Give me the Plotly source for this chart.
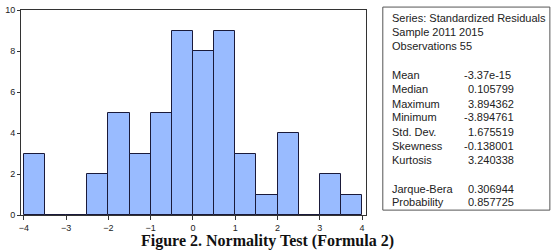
import plotly.graph_objects as go

bin_left = [-4.0, -3.5, -3.0, -2.5, -2.0, -1.5, -1.0, -0.5, 0.0, 0.5, 1.0, 1.5, 2.0, 2.5, 3.0, 3.5]
counts = [3, 0, 0, 2, 5, 3, 5, 9, 8, 9, 3, 1, 4, 0, 2, 1]
bin_width = 0.5

stat_header = ["Series: Standardized Residuals", "Sample 2011 2015", "Observations 55"]
stat_labels = ["Mean", "Median", "Maximum", "Minimum", "Std. Dev.", "Skewness", "Kurtosis", "Jarque-Bera", "Probability"]
stat_values = ["-3.37e-15", "0.105799", "3.894362", "-3.894761", "1.675519", "-0.138001", "3.240338", "0.306944", "0.857725"]

W, H = 554, 252
L, R, T, B = 17, 366, 5, 215

def px(x):
    return (x - L) / (R - L)

def py(y):
    return (B - y) / (B - T)

fig = go.Figure()
fig.add_trace(go.Bar(
    x=[b + bin_width / 2 for b in bin_left],
    y=counts,
    width=bin_width,
    marker=dict(color="#99BBFF", line=dict(color="#1a1a3a", width=1)),
    showlegend=False,
))

fig.update_layout(
    width=W, height=H,
    margin=dict(l=L, r=W - R, t=T, b=H - B, pad=0),
    paper_bgcolor="white", plot_bgcolor="white",
    bargap=0,
    font=dict(family="Liberation Sans, Arial", size=9, color="#222"),
    xaxis=dict(range=[-4.07, 4.094], tickvals=[-4, -3, -2, -1, 0, 1, 2, 3, 4],
               ticks="outside", ticklen=4, tickcolor="#333", showgrid=False, zeroline=False,
               showline=True, linecolor="#333", linewidth=1, mirror=True,
               tickfont=dict(size=9)),
    yaxis=dict(range=[0, 10], tickvals=[0, 2, 4, 6, 8, 10],
               ticks="outside", ticklen=3, tickcolor="#333", showgrid=False, zeroline=False,
               showline=True, linecolor="#333", linewidth=1, mirror=True,
               tickfont=dict(size=9)),
)

# stats box
fig.add_shape(type="rect", xref="paper", yref="paper",
              x0=px(383), x1=px(552), y0=py(210), y1=py(2),
              line=dict(color="#555", width=1), fillcolor="white")

fs = 11
ys_head = [13, 28, 42]
for t, yy in zip(stat_header, ys_head):
    fig.add_annotation(text=t, xref="paper", yref="paper", x=px(390), y=py(yy),
                       xanchor="left", yanchor="middle", showarrow=False,
                       font=dict(size=fs, color="#222"))
ys_stat = [72, 86, 101, 115, 130, 144, 159, 188, 202]
for lab, val, yy in zip(stat_labels, stat_values, ys_stat):
    fig.add_annotation(text=lab, xref="paper", yref="paper", x=px(390), y=py(yy),
                       xanchor="left", yanchor="middle", showarrow=False,
                       font=dict(size=fs, color="#222"))
    xv = 463 if val.startswith("-") else 467
    fig.add_annotation(text=val, xref="paper", yref="paper", x=px(xv), y=py(yy),
                       xanchor="left", yanchor="middle", showarrow=False,
                       font=dict(size=fs, color="#222"))

fig.add_annotation(text="<b>Figure 2. Normality Test (Formula 2)</b>", xref="paper", yref="paper",
                   x=px(266), y=py(242), xanchor="center", yanchor="middle", showarrow=False,
                   font=dict(family="Liberation Serif, Times New Roman", size=16, color="#111"))

fig.write_html("out.html")
